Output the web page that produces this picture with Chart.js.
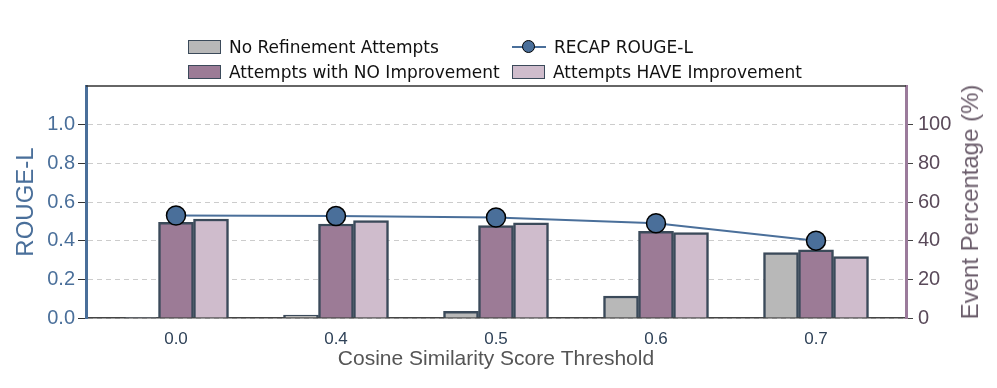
<!DOCTYPE html>
<html>
<head>
<meta charset="utf-8">
<script src="https://cdn.jsdelivr.net/npm/chart.js@4.4.1/dist/chart.umd.min.js"></script>
<style>
  body { margin: 0; background: #fff; }
  #wrap { position: relative; width: 997px; height: 388px; }
  #myChart { position: absolute; left: 0; top: 0; }
  #legend {
    position: absolute; left: 188px; top: 37px;
    display: grid; grid-template-columns: 324px auto; row-gap: 5px;
    font-family: "DejaVu Sans", sans-serif; font-size: 17px; color: #111;
  }
  .item { display: flex; align-items: center; height: 20px; }
  .box { width: 31px; height: 12px; border: 1.5px solid #3b4a5a; margin-right: 8px; }
  .lin { position: relative; width: 34px; height: 14px; margin-right: 8px; }
  .lin::before { content: ""; position: absolute; left: 0; right: 0; top: 6px; height: 2px; background: #4a6f9a; }
  .lin::after { content: ""; position: absolute; left: 10px; top: 0px; width: 11px; height: 11px; border-radius: 50%; background: #4a6f9a; border: 1.5px solid #000; }
  #tituloDer {
    position: absolute; left: 970px; top: 202px;
    transform: translate(-50%, -50%) rotate(-90deg);
    white-space: nowrap;
    font-family: "Liberation Sans", sans-serif; font-size: 24px; color: #6b5d6b;
  }
</style>
</head>
<body>
<div id="wrap">
  <canvas id="myChart" width="997" height="388"></canvas>
  <div id="legend">
    <div class="item"><span class="box" style="background:#b8b8b8"></span>No Refinement Attempts</div>
    <div class="item"><span class="lin"></span>RECAP ROUGE-L</div>
    <div class="item"><span class="box" style="background:#9c7b96"></span>Attempts with NO Improvement</div>
    <div class="item"><span class="box" style="background:#cfbccc"></span>Attempts HAVE Improvement</div>
  </div>
  <div id="tituloDer">Event Percentage (%)</div>
</div>
<script>
// Datos
const umbrales = ["0.0", "0.4", "0.5", "0.6", "0.7"]
const sinRefinamiento = [0.3, 1.5, 3.5, 11.4, 33.8]
const sinMejora = [49.5, 48.6, 47.8, 44.8, 35.2]
const conMejora = [51.2, 50.4, 49.2, 44.2, 31.8]
const rougeL = [0.53, 0.527, 0.52, 0.49, 0.40]

const azul = '#4a6f9a'
const malva = '#9b7b9b'
const borde = '#3b4a5a'

const xy = arr => arr.map((v, i) => ({ x: i, y: v }))

// Marco superior del area de la grafica
const marcoArriba = {
  id: 'marcoArriba',
  afterDraw(chart) {
    const a = chart.chartArea, c = chart.ctx
    c.save()
    c.strokeStyle = '#333'
    c.lineWidth = 1.5
    c.beginPath()
    c.moveTo(a.left, a.top)
    c.lineTo(a.right, a.top)
    c.stroke()
    c.restore()
  }
}

const ctx = document.getElementById('myChart')
new Chart(ctx, {
  type: 'bar',
  data: {
    datasets: [
      {
        type: 'line',
        label: 'RECAP ROUGE-L',
        data: xy(rougeL),
        yAxisID: 'y',
        borderColor: azul,
        borderWidth: 2,
        pointRadius: 9.5,
        pointBackgroundColor: azul,
        pointBorderColor: '#000',
        pointBorderWidth: 1.5,
        order: 0
      },
      {
        label: 'No Refinement Attempts',
        data: xy(sinRefinamiento),
        yAxisID: 'y1',
        backgroundColor: '#b8b8b8',
        borderColor: borde,
        borderWidth: 2.5,
        barThickness: 35,
        order: 1
      },
      {
        label: 'Attempts with NO Improvement',
        data: xy(sinMejora),
        yAxisID: 'y1',
        backgroundColor: '#9c7b96',
        borderColor: borde,
        borderWidth: 2.5,
        barThickness: 35,
        order: 1
      },
      {
        label: 'Attempts HAVE Improvement',
        data: xy(conMejora),
        yAxisID: 'y1',
        backgroundColor: '#cfbccc',
        borderColor: borde,
        borderWidth: 2.5,
        barThickness: 35,
        order: 1
      }
    ]
  },
  options: {
    responsive: false,
    animation: false,
    layout: { padding: { top: 86, left: 0, right: 0, bottom: 0 } },
    plugins: { legend: { display: false }, tooltip: { enabled: false } },
    scales: {
      x: {
        type: 'linear',
        offset: false,
        min: -0.5625,
        max: 4.5625,
        afterBuildTicks: s => { s.ticks = umbrales.map((_, i) => ({ value: i })) },
        afterFit: s => { s.height = 70 },
        grid: { display: false, drawTicks: false },
        border: { color: '#444', width: 1.5 },
        ticks: {
          callback: v => umbrales[v],
          color: '#2f4258',
          padding: 11,
          maxRotation: 0,
          font: { family: 'Liberation Sans', size: 17 }
        },
        title: {
          display: true,
          text: 'Cosine Similarity Score Threshold',
          color: '#555',
          padding: { top: 0, bottom: 16 },
          font: { family: 'Liberation Sans', size: 21 }
        }
      },
      y: {
        position: 'left',
        min: 0,
        max: 1.2,
        afterFit: s => { s.width = 86 },
        afterBuildTicks: s => { s.ticks = [0, 0.2, 0.4, 0.6, 0.8, 1.0].map(v => ({ value: v })) },
        grid: {
          color: '#cccccc',
          tickColor: '#333',
          tickBorderDash: [],
          tickLength: 8,
          lineWidth: 1
        },
        border: { color: azul, width: 3, dash: [5, 4] },
        ticks: {
          callback: v => v.toFixed(1),
          color: azul,
          padding: 3,
          font: { family: 'Liberation Sans', size: 20 }
        },
        title: {
          display: true,
          text: 'ROUGE-L',
          color: azul,
          padding: { top: 12, bottom: 0 },
          font: { family: 'Liberation Sans', size: 24 }
        }
      },
      y1: {
        position: 'right',
        min: 0,
        max: 120,
        afterFit: s => { s.width = 91 },
        afterBuildTicks: s => { s.ticks = [0, 20, 40, 60, 80, 100].map(v => ({ value: v })) },
        grid: { drawOnChartArea: false, tickColor: '#444', tickLength: 7 },
        border: { color: malva, width: 3 },
        ticks: {
          color: '#5a4a5a',
          padding: 5,
          font: { family: 'Liberation Sans', size: 20 }
        }
      }
    }
  },
  plugins: [marcoArriba]
})
</script>
</body>
</html>
